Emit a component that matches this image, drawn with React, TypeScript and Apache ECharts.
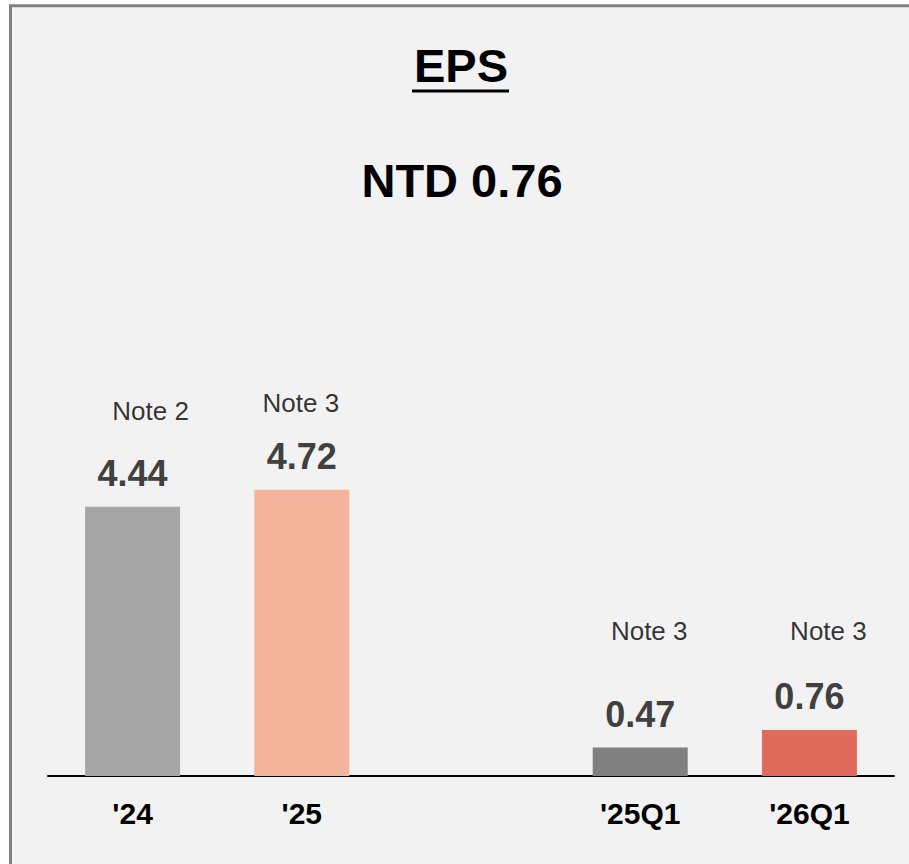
import React, { useEffect, useRef } from "react";
import * as echarts from "echarts";

const categories = ["'24", "'25", "", "'25Q1", "'26Q1"];
const eps = [4.44, 4.72, null, 0.47, 0.76];
const barColors = ["#a6a6a6", "#f4b39b", "transparent", "#808080", "#e06b5d"];
const notes = ["Note 2", "Note 3", "", "Note 3", "Note 3"];
const noteLevels = [6.02, 6.16, null, 2.39, 2.39];
const noteOffsets = [18, -1, 0, 9, 19];
const titleText = "EPS";
const headline = "NTD 0.76";

const FONT = "'Liberation Sans', Arial, sans-serif";

export default function App() {
  const ref = useRef<HTMLDivElement>(null);
  useEffect(() => {
    if (!ref.current) return;
    const chart = echarts.init(ref.current, undefined, { renderer: "svg" });
    const barData = eps.map((v, i) =>
      v == null ? null : { value: v, itemStyle: { color: barColors[i] } }
    );
    const noteData = notes
      .map((n, i) =>
        n && noteLevels[i] != null
          ? {
              value: [i, noteLevels[i]],
              label: { formatter: n, offset: [noteOffsets[i], 0] },
            }
          : null
      )
      .filter((d) => d != null);
    chart.setOption({
      animation: false,
      backgroundColor: "#ffffff",
      textStyle: { fontFamily: FONT },
      graphic: [
        {
          type: "rect",
          z: -10,
          shape: { x: 10.5, y: 5.8, width: 1000, height: 1000 },
          style: { fill: "#f2f2f2", stroke: "#808080", lineWidth: 3 },
        },
        {
          type: "text",
          x: 461,
          y: 65,
          style: {
            text: titleText,
            fontSize: 47,
            fontWeight: "bold",
            fontFamily: FONT,
            fill: "#000",
            align: "center",
            verticalAlign: "middle",
          },
        },
        {
          type: "line",
          shape: { x1: 412, y1: 91, x2: 509, y2: 91 },
          style: { stroke: "#000", lineWidth: 3 },
        },
        {
          type: "text",
          x: 462,
          y: 180,
          style: {
            text: headline,
            fontSize: 47,
            fontWeight: "bold",
            fontFamily: FONT,
            fill: "#000",
            align: "center",
            verticalAlign: "middle",
          },
        },
      ],
      grid: { left: 48, right: 15, top: 291, bottom: 88 },
      xAxis: {
        type: "category",
        data: categories,
        axisLine: { show: true, lineStyle: { color: "#000", width: 2 } },
        axisTick: { show: false },
        axisLabel: {
          color: "#000",
          fontSize: 30,
          fontWeight: "bold",
          fontFamily: FONT,
          margin: 37,
          verticalAlign: "middle",
          interval: 0,
        },
      },
      yAxis: {
        type: "value",
        min: 0,
        max: 8,
        show: false,
        splitLine: { show: false },
      },
      series: [
        {
          type: "bar",
          data: barData,
          barWidth: 95,
          z: 2,
          label: {
            show: true,
            position: "top",
            verticalAlign: "middle",
            distance: 33,
            fontSize: 36,
            fontWeight: "bold",
            color: "#404040",
            fontFamily: FONT,
          },
        },
        {
          type: "scatter",
          data: noteData,
          symbolSize: 0,
          z: 3,
          label: {
            show: true,
            position: "inside",
            align: "center",
            verticalAlign: "middle",
            fontSize: 26,
            color: "#000",
            fontFamily: FONT,
          },
        },
      ],
    });
    return () => chart.dispose();
  }, []);
  return (
    <div
      ref={ref}
      style={{ position: "absolute", left: 0, top: 0, width: 909, height: 864 }}
    />
  );
}
